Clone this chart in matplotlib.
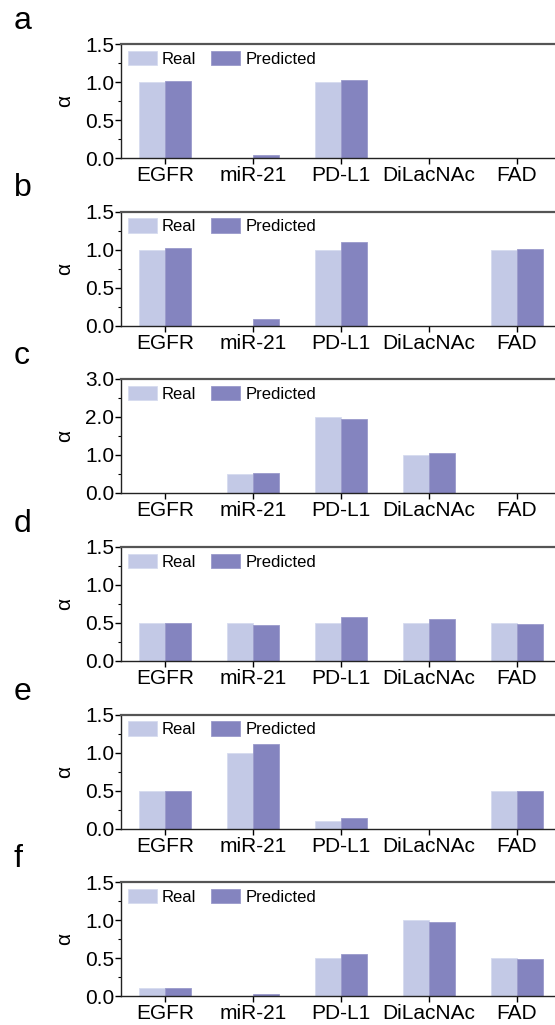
import matplotlib
matplotlib.use('Agg')
import matplotlib.pyplot as plt
from matplotlib.ticker import MultipleLocator, FormatStrFormatter
import numpy as np

plt.rcParams['font.family'] = ['Liberation Sans', 'DejaVu Sans']

categories = ['EGFR', 'miR-21', 'PD-L1', 'DiLacNAc', 'FAD']
panel_labels = ['a', 'b', 'c', 'd', 'e', 'f']

real = [
    [1.0, 0.0, 1.0, 0.0, 0.0],
    [1.0, 0.0, 1.0, 0.0, 1.0],
    [0.0, 0.5, 2.0, 1.0, 0.0],
    [0.5, 0.5, 0.5, 0.5, 0.5],
    [0.5, 1.0, 0.1, 0.0, 0.5],
    [0.1, 0.0, 0.5, 1.0, 0.5],
]
predicted = [
    [1.015, 0.04, 1.03, 0.0, 0.0],
    [1.02, 0.09, 1.095, 0.0, 1.01],
    [0.0, 0.52, 1.955, 1.06, 0.0],
    [0.5, 0.478, 0.58, 0.557, 0.49],
    [0.5, 1.11, 0.14, 0.0, 0.5],
    [0.1, 0.027, 0.553, 0.98, 0.49],
]
ymax = [1.5, 1.5, 3.0, 1.5, 1.5, 1.5]

c_real = '#c3c9e6'
c_pred = '#8484bf'

W, H = 555, 1025
fig = plt.figure(figsize=(W / 100, H / 100), dpi=100)

x = np.arange(len(categories))
bw = 0.3
tops = [44, 211.5, 379, 547, 714.5, 882]
for i in range(6):
    top = tops[i]
    ax = fig.add_axes([121 / W, 1 - (top + 114) / H, 440 / W, 114 / H])
    ax.bar(x - bw / 2, real[i], bw, color=c_real, edgecolor='#d6dbef',
           linewidth=0.6, label='Real', zorder=2)
    ax.bar(x + bw / 2, predicted[i], bw, color=c_pred, edgecolor='#9a9acb',
           linewidth=0.6, label='Predicted', zorder=2)
    ax.set_xlim(-0.5, 4.5)
    ax.set_ylim(0, ymax[i])
    ax.set_xticks(x)
    ax.set_xticklabels(categories, fontsize=15)
    step = ymax[i] / 3
    ax.yaxis.set_major_locator(MultipleLocator(step))
    ax.yaxis.set_minor_locator(MultipleLocator(step / 2))
    ax.yaxis.set_major_formatter(FormatStrFormatter('%.1f'))
    ax.tick_params(axis='y', which='major', labelsize=15, length=4, width=1, pad=1)
    ax.tick_params(axis='y', which='minor', length=2.5, width=0.8)
    ax.tick_params(axis='x', length=4, width=1, pad=2)
    ax.set_ylabel('α', fontsize=15, labelpad=8)
    for s in ['left', 'bottom']:
        ax.spines[s].set_linewidth(1.0)
        ax.spines[s].set_color('#222222')
    ax.spines['top'].set_linewidth(1.6)
    ax.spines['top'].set_color('#555555')
    ax.spines['right'].set_visible(False)
    ax.legend(loc='upper left', ncol=2, frameon=False, fontsize=12,
              handlelength=1.75, handleheight=0.95, handletextpad=0.3,
              columnspacing=0.9, borderaxespad=0.2, borderpad=0.2)
    fig.text(14 / W, 1 - (top - 15) / H, panel_labels[i], fontsize=23,
             va='baseline', ha='left')

fig.savefig('out.png', dpi=100)
